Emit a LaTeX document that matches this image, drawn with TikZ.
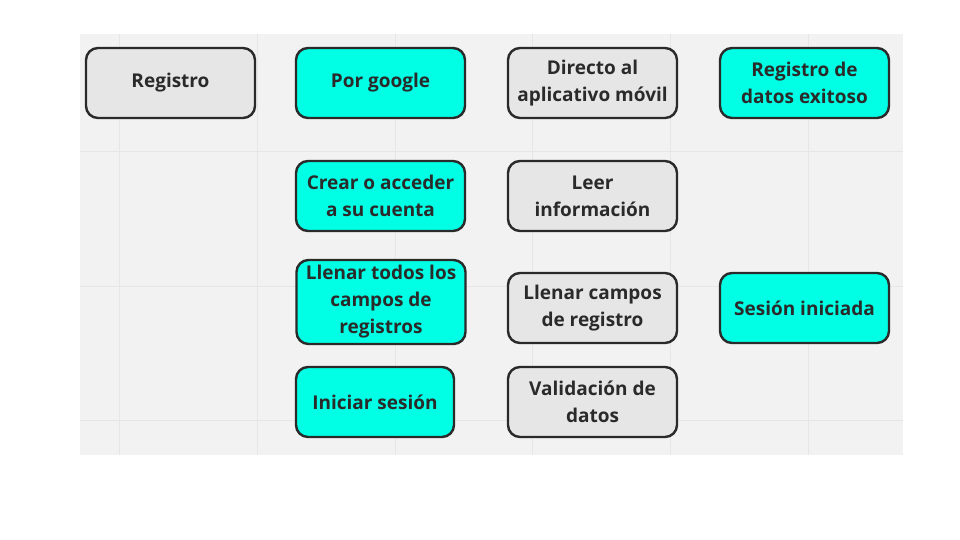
\documentclass[tikz,border=0pt]{standalone}
\usepackage{fontspec}
\setmainfont{Open Sans}
\usepackage{xcolor}
\usepackage{tikz}

\definecolor{fondo}{HTML}{F2F2F2}
\definecolor{rejilla}{HTML}{E6E6E6}
\definecolor{cian}{HTML}{00FFE4}
\definecolor{gris}{HTML}{E6E6E6}
\definecolor{borde}{HTML}{2A2A2A}
\definecolor{texto}{HTML}{2A2A2A}

\tikzset{
  caja/.style={draw=borde, line width=2.4pt, rounded corners=12pt,
    minimum width=169pt, minimum height=70pt, align=center, inner sep=2pt,
    text=texto, font=\bfseries\fontsize{19}{27}\selectfont},
  cajacian/.style={caja, fill=cian},
  cajagris/.style={caja, fill=gris}
}

\begin{document}
\begin{tikzpicture}[x=1pt,y=-1pt]
    % 画布大小
    \useasboundingbox (0,0) rectangle (960,540);

    % 背景与网格
    \fill[fondo] (80,34) rectangle (903,455);
    \foreach \gx in {119,257,395,532,670,808}
        \draw[rejilla, line width=1pt] (\gx,34) -- (\gx,455);
    \foreach \gy in {152,286,420}
        \draw[rejilla, line width=1pt] (80,\gy) -- (903,\gy);

    % 第一行
    \node[cajagris] (registro) at (170.5,83) {Registro};
    \node[cajacian] (google) at (380.5,83) {Por google};
    \node[cajagris] (directo) at (592.5,83) {Directo al\\aplicativo móvil};
    \node[cajacian] (exitoso) at (804.5,83) {Registro de\\datos exitoso};

    % 第二行
    \node[cajacian] (cuenta) at (380.5,196) {Crear o acceder\\a su cuenta};
    \node[cajagris] (leer) at (592.5,196) {Leer\\información};

    % 第三行
    \node[cajacian, minimum height=84pt] (llenartodos) at (381,302)
        {Llenar todos los\\campos de\\registros};
    \node[cajagris] (llenarcampos) at (592.5,308) {Llenar campos\\de registro};
    \node[cajacian] (sesion) at (804.5,308) {Sesión iniciada};

    % 第四行
    \node[cajacian, minimum width=158pt] (iniciar) at (375,402) {Iniciar sesión};
    \node[cajagris] (validacion) at (592.5,402) {Validación de\\datos};
\end{tikzpicture}
\end{document}
